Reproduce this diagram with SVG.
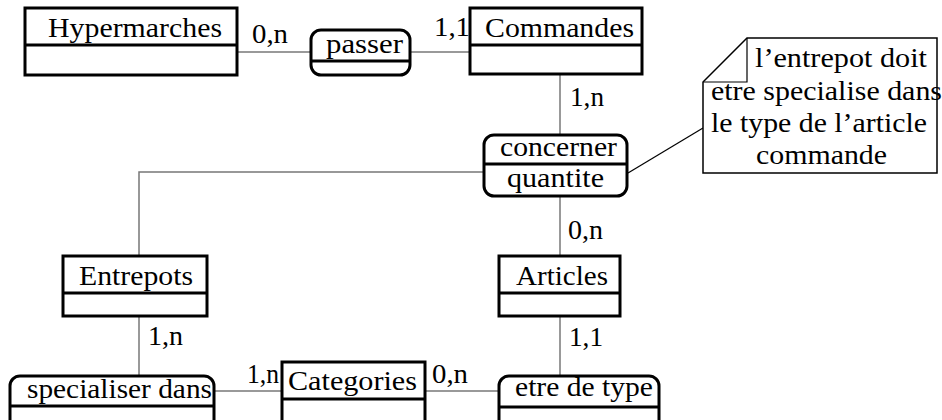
<svg xmlns="http://www.w3.org/2000/svg" width="942" height="420" viewBox="0 0 942 420">
<style>
text{font-family:"Liberation Serif","Times New Roman",serif;font-size:28px;fill:#000}
.ent{fill:#fff;stroke:#000;stroke-width:3}
.rel{fill:#fff;stroke:#000;stroke-width:3}
.div{stroke:#000;stroke-width:3}
.con{stroke:#777;stroke-width:1.5;fill:none}
.note{fill:#fff;stroke:#000;stroke-width:1.5}
.nl{stroke:#000;stroke-width:1.2;fill:none}
</style>
<rect width="942" height="420" fill="#fff"/>
<g id="connectors">
<line class="con" x1="237" y1="52" x2="311" y2="52"/>
<line class="con" x1="410" y1="52" x2="470" y2="52"/>
<line class="con" x1="560" y1="74" x2="560" y2="135"/>
<line class="con" x1="560" y1="196" x2="560" y2="256"/>
<polyline class="con" points="484,172 139,172 139,256"/>
<line class="con" x1="139" y1="316" x2="139" y2="376"/>
<line class="con" x1="214" y1="391" x2="282" y2="391"/>
<line class="con" x1="425" y1="391" x2="499" y2="391"/>
<line class="con" x1="560" y1="316" x2="560" y2="376"/>
<line class="nl" x1="628" y1="173" x2="703" y2="128"/>
<text x="252" y="43" textLength="36" lengthAdjust="spacingAndGlyphs">0,n</text>
<text x="434" y="36" textLength="36" lengthAdjust="spacingAndGlyphs">1,1</text>
<text x="570" y="106" textLength="34" lengthAdjust="spacingAndGlyphs">1,n</text>
<text x="568" y="239" textLength="35" lengthAdjust="spacingAndGlyphs">0,n</text>
<text x="148" y="345" textLength="35" lengthAdjust="spacingAndGlyphs">1,n</text>
<text x="569" y="346" textLength="34" lengthAdjust="spacingAndGlyphs">1,1</text>
<text x="247" y="383" textLength="32" lengthAdjust="spacingAndGlyphs">1,n</text>
<text x="432" y="383" textLength="36" lengthAdjust="spacingAndGlyphs">0,n</text>
</g>
<g id="hypermarches">
<rect class="ent" x="25" y="8" width="212" height="67"/>
<line class="div" x1="25" y1="45" x2="237" y2="45"/>
<text x="48" y="37" textLength="174" lengthAdjust="spacingAndGlyphs">Hypermarches</text>
</g>
<g id="passer">
<rect class="rel" x="311" y="30" width="99" height="45" rx="10"/>
<line class="div" x1="311" y1="61" x2="410" y2="61"/>
<text x="326" y="53" textLength="77" lengthAdjust="spacingAndGlyphs">passer</text>
</g>
<g id="commandes">
<rect class="ent" x="470" y="8" width="172" height="66"/>
<line class="div" x1="470" y1="45" x2="642" y2="45"/>
<text x="485" y="37" textLength="149" lengthAdjust="spacingAndGlyphs">Commandes</text>
</g>
<g id="concerner">
<rect class="rel" x="484" y="135" width="143" height="61" rx="10"/>
<line class="div" x1="484" y1="164" x2="627" y2="164"/>
<text x="500" y="156" textLength="117" lengthAdjust="spacingAndGlyphs">concerner</text>
<text x="507" y="187" textLength="97" lengthAdjust="spacingAndGlyphs">quantite</text>
</g>
<g id="note">
<polygon class="note" points="747,38 937,38 937,173 703,173 703,82"/>
<polyline class="nl" points="747,38 747,82 703,82"/>
<text x="755" y="67" textLength="172" lengthAdjust="spacingAndGlyphs">l’entrepot doit</text>
<text x="711" y="100" textLength="231" lengthAdjust="spacingAndGlyphs">etre specialise dans</text>
<text x="711" y="132" textLength="216" lengthAdjust="spacingAndGlyphs">le type de l’article</text>
<text x="756" y="164" textLength="131" lengthAdjust="spacingAndGlyphs">commande</text>
</g>
<g id="entrepots">
<rect class="ent" x="63" y="256" width="144" height="60"/>
<line class="div" x1="63" y1="293" x2="207" y2="293"/>
<text x="79" y="285" textLength="114" lengthAdjust="spacingAndGlyphs">Entrepots</text>
</g>
<g id="articles">
<rect class="ent" x="499" y="256" width="121" height="60"/>
<line class="div" x1="499" y1="293" x2="620" y2="293"/>
<text x="516" y="285" textLength="92" lengthAdjust="spacingAndGlyphs">Articles</text>
</g>
<g id="specialiser">
<rect class="rel" x="10" y="376" width="204" height="62" rx="10"/>
<line class="div" x1="10" y1="406" x2="214" y2="406"/>
<text x="27" y="398" textLength="185" lengthAdjust="spacingAndGlyphs">specialiser dans</text>
</g>
<g id="categories">
<rect class="ent" x="282" y="362" width="143" height="70"/>
<line class="div" x1="282" y1="399" x2="425" y2="399"/>
<text x="288" y="390" textLength="129" lengthAdjust="spacingAndGlyphs">Categories</text>
</g>
<g id="etredetype">
<rect class="rel" x="499" y="376" width="160" height="62" rx="10"/>
<line class="div" x1="499" y1="407" x2="659" y2="407"/>
<text x="515" y="396" textLength="138" lengthAdjust="spacingAndGlyphs">etre de type</text>
</g>
</svg>
